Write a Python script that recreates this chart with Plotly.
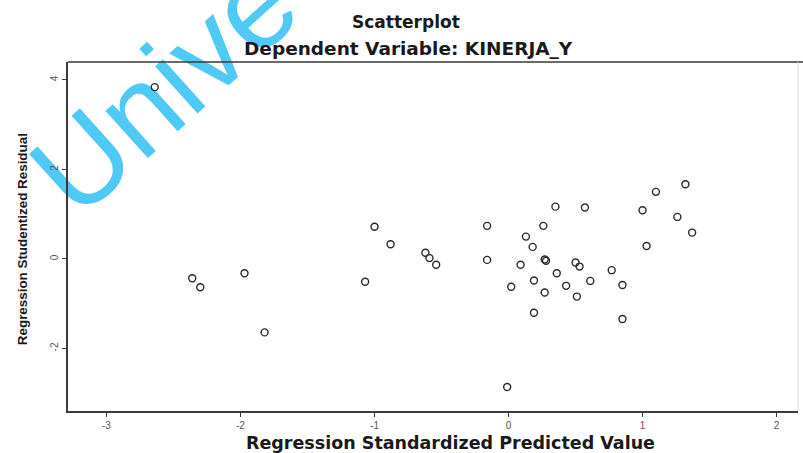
import plotly.graph_objects as go

# Regression Standardized Predicted Value
pred = [-2.64, -2.36, -2.30, -1.97, -1.82,
        -1.07, -1.00, -0.88, -0.62, -0.59, -0.54,
        -0.16, -0.16,
        0.35, 0.57, 0.26, 0.13, 0.18, 0.27, 0.28, 0.09, 0.50, 0.53,
        0.36, 0.77, 0.19, 0.61, 0.43, 0.85, 0.02, 0.27, 0.51, 0.19, 0.85,
        1.32, 1.10, 1.00, 1.26, 1.37, 1.03,
        -0.01]
# Regression Studentized Residual
resid = [3.84, -0.43, -0.63, -0.32, -1.64,
         -0.51, 0.72, 0.33, 0.14, 0.02, -0.13,
         0.74, -0.02,
         1.17, 1.15, 0.74, 0.50, 0.27, -0.01, -0.04, -0.13, -0.08, -0.17,
         -0.32, -0.25, -0.48, -0.49, -0.60, -0.58, -0.62, -0.75, -0.84, -1.20, -1.34,
         1.67, 1.50, 1.09, 0.94, 0.59, 0.29,
         -2.86]

x_ticks = [-3, -2, -1, 0, 1, 2]
y_ticks = [-2, 0, 2, 4]

title = "Scatterplot"
subtitle = "Dependent Variable: KINERJA_Y"
x_title = "Regression Standardized Predicted Value"
y_title = "Regression Studentized Residual"
watermark = "Unive"

fig = go.Figure()
fig.add_trace(go.Scatter(
    x=pred, y=resid, mode="markers",
    marker=dict(symbol="circle-open", size=7, color="#2a2a2a", line=dict(width=1.4)),
    showlegend=False, hoverinfo="x+y",
))

axis_common = dict(showgrid=False, zeroline=False, showline=True, linecolor="#3a3a3a",
                   linewidth=1.5, ticks="outside", ticklen=4, tickcolor="#3a3a3a",
                   tickfont=dict(family="Liberation Sans", size=10, color="#555"))

fig.update_layout(
    width=803, height=453,
    margin=dict(l=68, r=5, t=62, b=42),
    paper_bgcolor="white", plot_bgcolor="white",
    xaxis=dict(range=[-3.287, 2.16], tickvals=x_ticks, ticktext=[str(v) for v in x_ticks],
               mirror=False, **axis_common),
    yaxis=dict(range=[-3.397, 4.402], tickvals=y_ticks, ticktext=[str(v) for v in y_ticks],
               tickangle=-90, mirror=False, **axis_common),
    shapes=[
        dict(type="rect", xref="paper", yref="paper", x0=-0.1795, x1=0.4205, y0=0.70, y1=1.20,
             line=dict(width=0), fillcolor="rgba(0,0,0,0)", layer="below",
             label=dict(text=watermark, textangle=-42, textposition="middle center",
                        font=dict(family="Liberation Sans", size=120, color="#4fc9f5"))),
        dict(type="line", xref="paper", yref="paper", x0=0, x1=1.01, y0=1, y1=1,
             line=dict(color="#3a3a3a", width=1.5)),
        dict(type="line", xref="paper", yref="paper", x0=1, x1=1, y0=0, y1=1,
             line=dict(color="#dddddd", width=1)),
    ],
    annotations=[
        dict(text=title, xref="paper", yref="paper", x=0.463, y=1.1146, showarrow=False,
             xanchor="center", yanchor="middle",
             font=dict(family="DejaVu Sans", size=17, color="#1a1a1a", weight="bold")),
        dict(text=subtitle, xref="paper", yref="paper", x=0.466, y=1.040, showarrow=False,
             xanchor="center", yanchor="middle",
             font=dict(family="DejaVu Sans", size=18.5, color="#1a1a1a", weight="bold")),
        dict(text=x_title, xref="paper", yref="paper", x=0.5246, y=-0.0917, showarrow=False,
             xanchor="center", yanchor="middle",
             font=dict(family="DejaVu Sans", size=17.5, color="#1a1a1a", weight="bold")),
        dict(text=y_title, xref="paper", yref="paper", x=-0.0628, y=0.4928, showarrow=False,
             xanchor="center", yanchor="middle", textangle=-90,
             font=dict(family="Liberation Sans", size=13.4, color="#1a1a1a", weight="bold")),
    ],
)

fig.write_html("out.html", config={"displayModeBar": False},
               post_script="document.body.style.margin='0px';")
